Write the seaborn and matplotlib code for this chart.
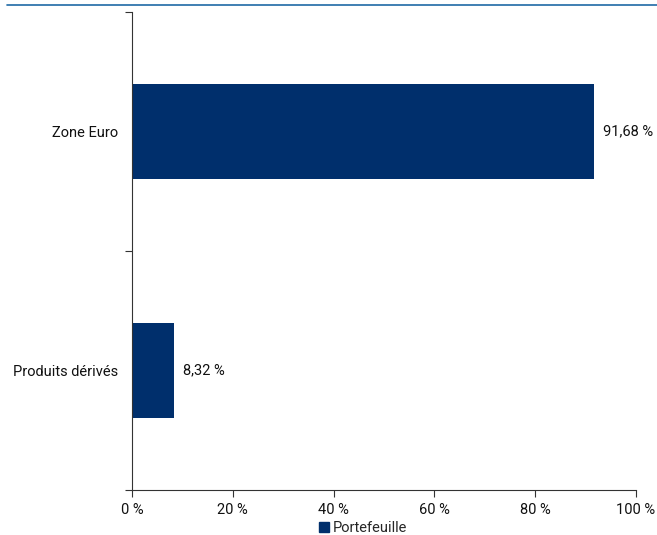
import matplotlib
matplotlib.use("Agg")
import matplotlib.pyplot as plt
import matplotlib.lines as mlines
from matplotlib.patches import Patch
import seaborn as sns
import pandas as pd

categories = ["Zone Euro", "Produits dérivés"]
values = [91.68, 8.32]
value_labels = ["91,68 %", "8,32 %"]
tick_values = [0, 20, 40, 60, 80, 100]
tick_labels = ["0 %", "20 %", "40 %", "60 %", "80 %", "100 %"]
series_name = "Portefeuille"

sns.set_theme(style="white")
plt.rcParams['font.family'] = ['Roboto', 'DejaVu Sans']

color = "#002f6c"
df = pd.DataFrame({"cat": categories, "val": values})

fig = plt.figure(figsize=(6.57, 5.35), dpi=100)
ax = fig.add_axes([132/657, 1 - 490/535, (636 - 132)/657, (490 - 12)/535])
sns.barplot(data=df, y="cat", x="val", orient="h", color=color, width=0.4,
            saturation=1, linewidth=0, ax=ax)

ax.set_xlim(0, 100)
ax.set_ylim(1.5, -0.5)
ax.set_xticks(tick_values)
ax.set_xticklabels(tick_labels, fontsize=10.5, color="#111111")
ax.set_yticks(range(len(categories)))
ax.set_yticklabels(categories, fontsize=10.5, color="#111111")
ax.tick_params(axis="y", length=0, pad=10)
ax.set_yticks([-0.5, 0.5, 1.5], minor=True)
ax.tick_params(axis="y", which="minor", length=5, width=0.8, color="#333333", left=True)
ax.tick_params(axis="x", length=5, width=0.8, color="#333333", bottom=True,
               direction="out", pad=4)
ax.set_xlabel("")
ax.set_ylabel("")
for s in ["top", "right"]:
    ax.spines[s].set_visible(False)
for s in ["left", "bottom"]:
    ax.spines[s].set_color("#333333")
    ax.spines[s].set_linewidth(0.8)

for i, (v, lab) in enumerate(zip(values, value_labels)):
    ax.text(v + 1.7, i, lab, va="center", ha="left", fontsize=10.5, color="#111111")

# top rule
fig.add_artist(mlines.Line2D([7/657, 1], [1 - 5/535, 1 - 5/535], color="#1f6aa5", lw=1.2))

handles = [Patch(facecolor=color, edgecolor=color, label=series_name)]
fig.legend(handles=handles, loc="center", bbox_to_anchor=(363/657, 1 - 528/535),
           frameon=False, fontsize=10.5, handlelength=0.7, handleheight=0.7,
           handletextpad=0.3, borderpad=0)

fig.savefig("out.png", dpi=100)
